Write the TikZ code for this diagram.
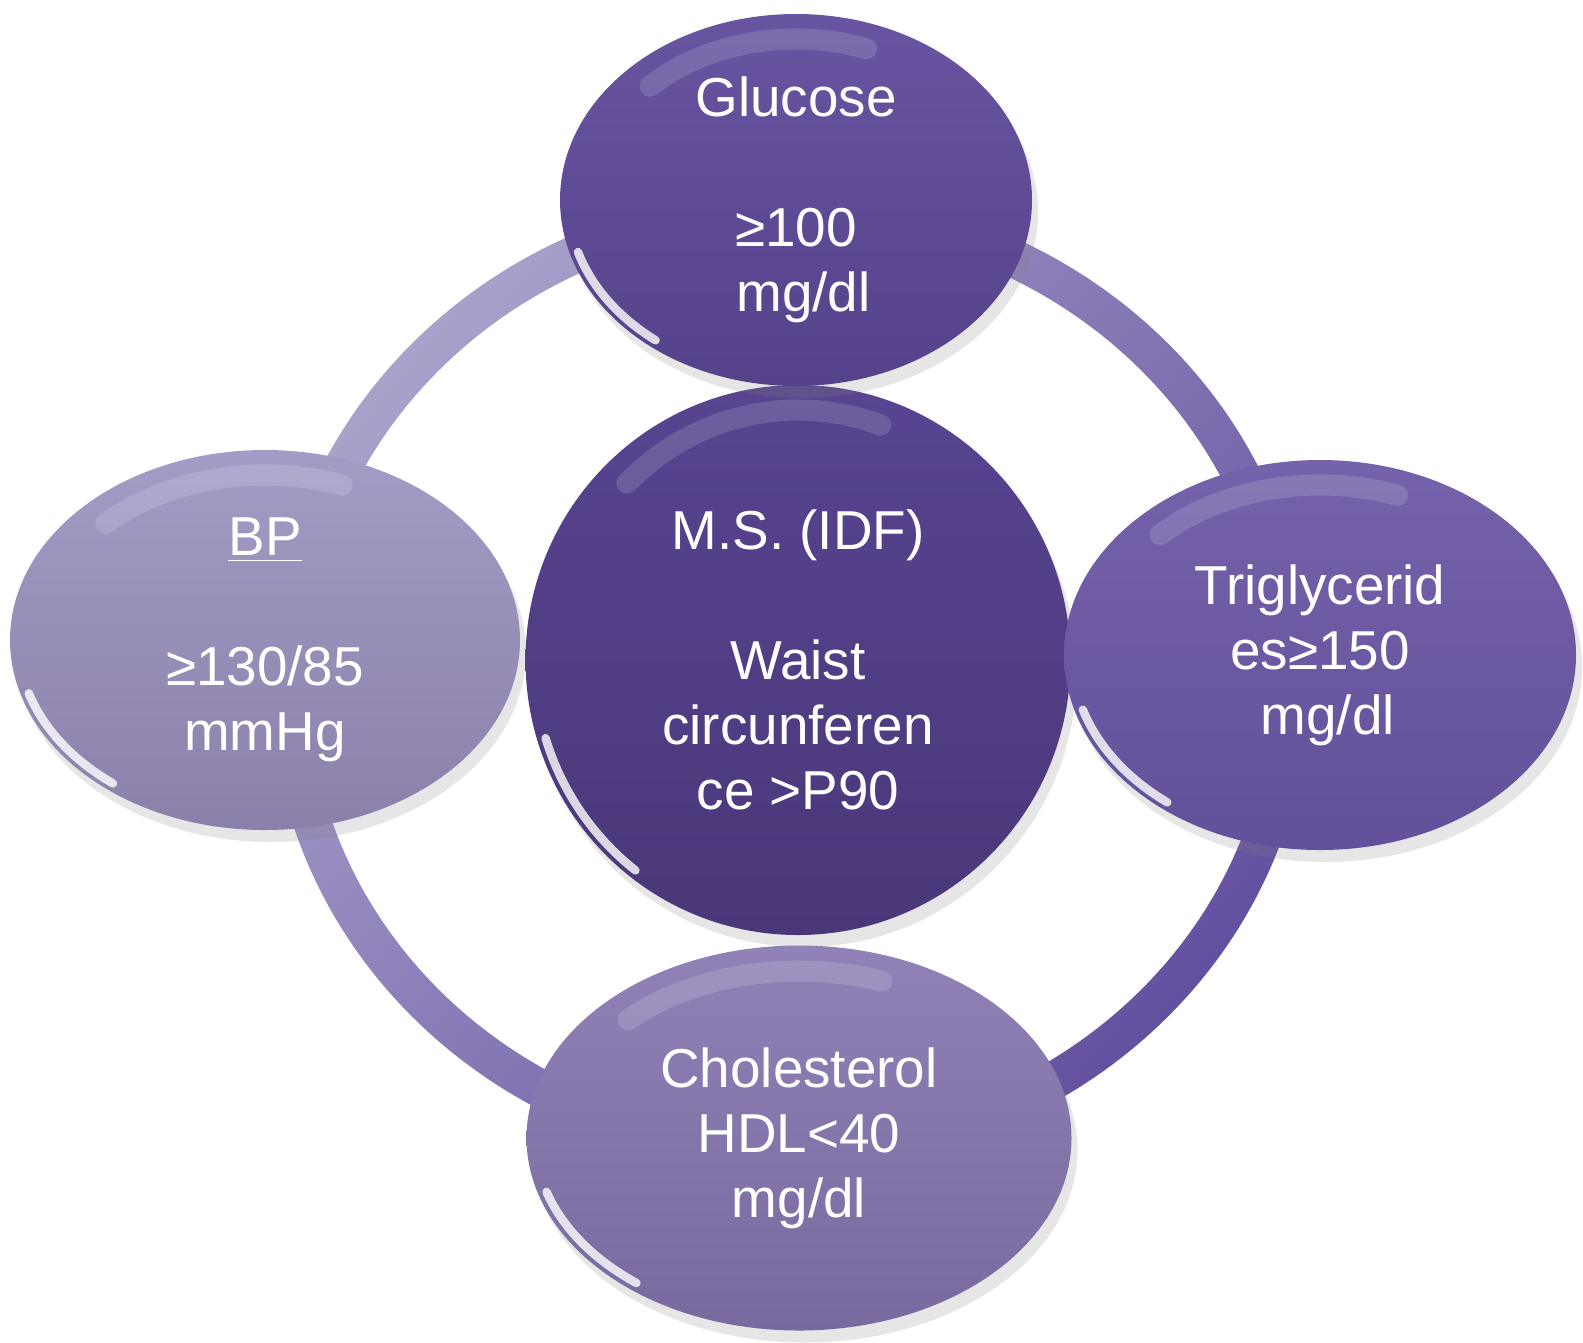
\documentclass[tikz,border=0pt]{standalone}
\usepackage{fontspec}
\setmainfont{Liberation Sans}
\usetikzlibrary{shapes.geometric,shadows,calc}
\definecolor{ringlight}{HTML}{AAA1CB}
\definecolor{ringdark}{HTML}{6450A0}
\definecolor{gluA}{HTML}{6854A0}\definecolor{gluB}{HTML}{56428A}
\definecolor{cenA}{HTML}{584490}\definecolor{cenB}{HTML}{4A3779}
\definecolor{bpA}{HTML}{A49CC6}\definecolor{bpB}{HTML}{8B80AA}
\definecolor{trA}{HTML}{7662AA}\definecolor{trB}{HTML}{62509A}
\definecolor{chA}{HTML}{9082B6}\definecolor{chB}{HTML}{786A9E}
\tikzset{
  bubble/.style={ellipse, inner sep=0pt, align=center, text=white,
    font=\fontsize{15.6}{18.5}\selectfont,
    drop shadow={opacity=0.2, shadow xshift=0.06cm, shadow yshift=-0.12cm}},
  gloss/.style={white, line width=2.4pt, opacity=0.8, line cap=round},
  softgloss/.style={white, line width=6pt, opacity=0.14, line cap=round}
}
\newcommand{\glosshl}[3]{%
  \draw[gloss] ($(#1.center)+(197:#2-0.08 and #3-0.08)$)
    arc[start angle=197, end angle=232, x radius=#2-0.08, y radius=#3-0.08];
  \draw[softgloss] ($(#1.center)+(70:#2-0.3 and #3-0.25)$)
    arc[start angle=70, end angle=135, x radius=#2-0.3, y radius=#3-0.25];
}
\begin{document}
\begin{tikzpicture}
\useasboundingbox (0,0) rectangle (15.83,-13.42);
% ring
\coordinate (rc) at (7.9,-6.8);
\shade[even odd rule, left color=ringlight, right color=ringdark, shading angle=50]
  (rc) ellipse [x radius=5.2, y radius=4.9]
  (rc) ellipse [x radius=4.82, y radius=4.52];
% bubbles
\node[bubble, minimum width=5.45cm, minimum height=5.5cm, top color=cenA, bottom color=cenB]
  (ms) at (7.98,-6.6) {M.S. (IDF)\\[18.5pt] Waist\\ circunferen\\ ce >P90};
\node[bubble, minimum width=4.72cm, minimum height=3.72cm, top color=gluA, bottom color=gluB]
  (glu) at (7.96,-2.0) {Glucose\\[18.5pt] ≥100\\ \ mg/dl};
\node[bubble, minimum width=5.1cm, minimum height=3.8cm, top color=bpA, bottom color=bpB]
  (bp) at (2.65,-6.4) {\underline{BP}\\[18.5pt] ≥130/85\\ mmHg};
\node[bubble, minimum width=5.12cm, minimum height=3.9cm, top color=trA, bottom color=trB]
  (tr) at (13.2,-6.55) {Triglycerid\\ es≥150\ \\ \ mg/dl};
\node[bubble, minimum width=5.45cm, minimum height=3.85cm, top color=chA, bottom color=chB]
  (ch) at (7.99,-11.38) {Cholesterol\\ HDL<40\\ mg/dl};
\glosshl{ms}{2.72}{2.75}
\glosshl{glu}{2.36}{1.86}
\glosshl{bp}{2.55}{1.9}
\glosshl{tr}{2.56}{1.95}
\glosshl{ch}{2.72}{1.92}
\end{tikzpicture}
\end{document}
